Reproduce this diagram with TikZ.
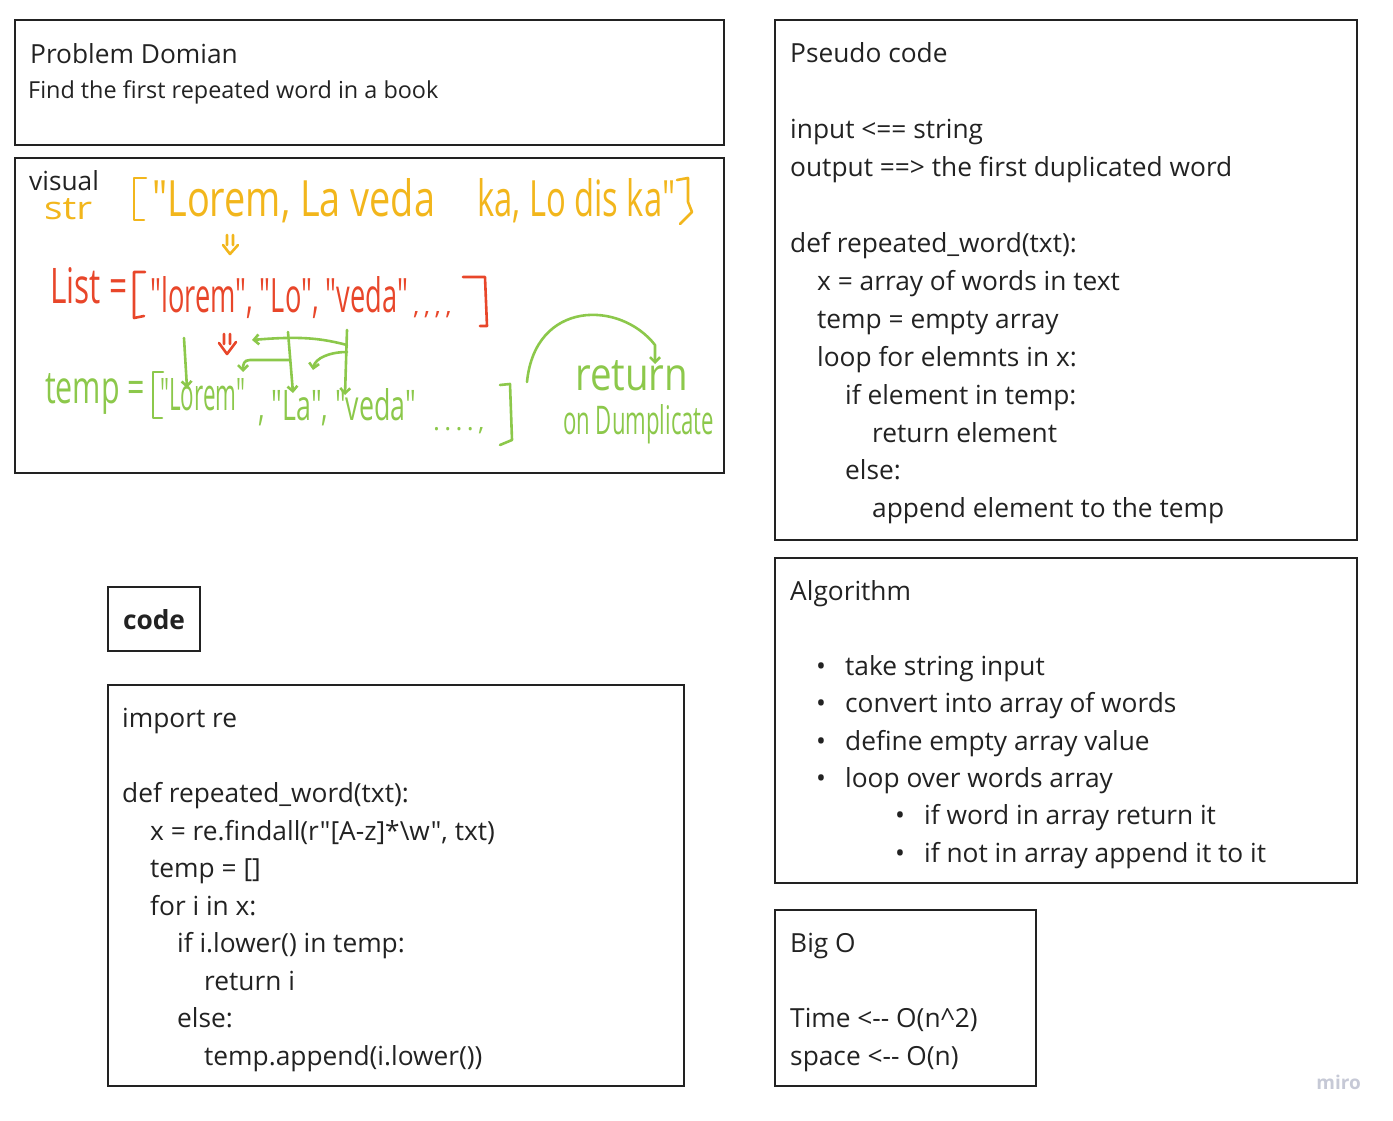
\documentclass[tikz,border=0pt]{standalone}
\usepackage{fontspec}
\usepackage{graphicx}
\newfontfamily\osans{Open Sans}
\usetikzlibrary{arrows.meta}
\definecolor{ink}{HTML}{222222}
\definecolor{hwy}{HTML}{F2B61C}
\definecolor{hwr}{HTML}{E8462A}
\definecolor{hwg}{HTML}{8CC84B}
\definecolor{mirogray}{HTML}{C6C9D6}
\newcommand\hw[3]{\resizebox{#1pt}{#2pt}{#3}}
\tikzset{
  panel/.style={draw=ink, line width=2.6pt},
  txt/.style={anchor=base west, inner sep=0pt, text=ink, font=\osans\fontsize{26.3}{30}\selectfont},
  subtxt/.style={txt, font=\osans\fontsize{23.4}{27}\selectfont},
  hand/.style={anchor=base west, inner sep=0pt, font=\osans},
  stroke/.style={line width=2.6pt, line cap=round, line join=round},
  harrow/.style={stroke, draw=hwg, -{Straight Barb[length=5pt,width=10pt]}},
}
\begin{document}
\begin{tikzpicture}[x=1pt,y=-1pt]
\useasboundingbox (0,0) rectangle (1393,1121);
% panels
\draw[panel] (15,20) rectangle (724,145);
\draw[panel] (15,158) rectangle (724,473);
\draw[panel] (775,20) rectangle (1357,540);
\draw[panel] (775,558) rectangle (1357,883);
\draw[panel] (775,910) rectangle (1036,1086);
\draw[panel] (108,587) rectangle (200,651);
\draw[panel] (108,685) rectangle (684,1086);

% problem domain
\node[txt] (pd1) at (30,63.5) {Problem Domian};
\node[subtxt] (pd2) at (28,99) {Find the first repeated word in a book};

% pseudo code
\node[txt] (ps0) at (790,63) {Pseudo code};
\node[txt] (ps2) at (790,138.8) {input <== string};
\node[txt] (ps3) at (790,176.7) {output ==> the first duplicated word};
\node[txt] (ps5) at (790,252.5) {def repeated\_word(txt):};
\node[txt] (ps6) at (817,290.4) {x = array of words in text};
\node[txt] (ps7) at (817,328.3) {temp = empty array};
\node[txt] (ps8) at (817,366.2) {loop for elemnts in x:};
\node[txt] (ps9) at (845,404.1) {if element in temp:};
\node[txt] (ps10) at (872,442) {return element};
\node[txt] (ps11) at (845,479.9) {else:};
\node[txt] (ps12) at (872,517.8) {append element to the temp};

% algorithm
\node[txt] (al0) at (790,600.5) {Algorithm};
\node[txt] (ab1) at (816,675.3) {\textbullet};
\node[txt] (al1) at (845,675.3) {take string input};
\node[txt] (ab2) at (816,712.7) {\textbullet};
\node[txt] (al2) at (845,712.7) {convert into array of words};
\node[txt] (ab3) at (816,750.1) {\textbullet};
\node[txt] (al3) at (845,750.1) {define empty array value};
\node[txt] (ab4) at (816,787.5) {\textbullet};
\node[txt] (al4) at (845,787.5) {loop over words array};
\node[txt] (ab5) at (895,824.9) {\textbullet};
\node[txt] (al5) at (924,824.9) {if word in array return it};
\node[txt] (ab6) at (895,862.3) {\textbullet};
\node[txt] (al6) at (924,862.3) {if not in array append it to it};

% big O
\node[txt] (bo0) at (790,952.5) {Big O};
\node[txt] (bo1) at (790,1027.5) {Time <-\kern0pt- O(n\textasciicircum 2)};
\node[txt] (bo2) at (790,1065) {space <-\kern0pt- O(n)};

% code label
\node[txt, anchor=base, font=\osans\fontsize{26.3}{30}\selectfont\bfseries] (codelbl) at (154,629.5) {code};

% code
\node[txt] (c0) at (122,727.5) {import re};
\node[txt] (c2) at (122,802.5) {def repeated\_word(txt):};
\node[txt] (c3) at (150,840) {x = re.findall(r"[A-z]*\textbackslash w", txt)};
\node[txt] (c4) at (150,877.5) {temp = []};
\node[txt] (c5) at (150,915) {for i in x:};
\node[txt] (c6) at (177,952.5) {if i.lower() in temp:};
\node[txt] (c7) at (204,990) {return i};
\node[txt] (c8) at (177,1027.5) {else:};
\node[txt] (c9) at (204,1065) {temp.append(i.lower())};

% miro
\node[anchor=base east, inner sep=0pt, text=mirogray, font=\osans\fontsize{19}{22}\selectfont\bfseries] (miro) at (1361,1089) {miro};

% visual
\node[txt] (vis) at (29,190) {visual};
% yellow
\node[hand, text=hwy] (ystr) at (44,219) {\hw{48}{21}{str}};
\draw[stroke, hwy] (146,178) -- (134,178) -- (134,220) -- (144,220);
\node[hand, text=hwy] (ys1) at (152,216) {\hw{283}{38}{"Lorem, La veda}};
\node[hand, text=hwy] (ys2) at (477,216) {\hw{198}{38}{ka, Lo dis ka"}};
\draw[stroke, hwy] (677,180) -- (688,178) -- (688,202) -- (692,212) -- (680,224);
\draw[stroke, hwy] (227,235) -- (227,245) (233,235) -- (233,245) (223,245) -- (230,254) -- (238,245);
% red
\node[hand, text=hwr] (rl) at (50,303) {\hw{77}{36}{List =}};
\draw[stroke, hwr] (145,272) -- (134,272) -- (134,318) -- (144,316);
\node[hand, text=hwr] (rl2) at (150,312) {\hw{258}{36}{"lorem", "Lo", "veda"}};
\node[hand, text=hwr, font=\osans\fontsize{26}{30}\selectfont] (rdots) at (413,314) {,\,,\,,\,,};
\draw[stroke, hwr] (463,277) -- (485,277) -- (487,326) -- (480,326);
\draw[stroke, hwr] (224,334) -- (224,344) (230,334) -- (230,344) (219,343) -- (227,354) -- (236,342);
% green
\node[hand, text=hwg] (gt) at (45,403) {\hw{100}{30}{temp =}};
\draw[stroke, hwg] (163,372) -- (153,372) -- (153,418) -- (162,418);
\node[hand, text=hwg] (gl) at (160,410) {\hw{85}{32}{"Lorem"}};
\node[hand, text=hwg] (gl2) at (258,420) {\hw{158}{32}{, "La", "veda"}};
\node[hand, text=hwg, font=\osans\fontsize{26}{30}\selectfont] (gdots) at (433,430) {.\,.\,.\,.\,,};
\draw[stroke, hwg] (500,385) -- (510,384) -- (512,440) -- (500,445);
\node[hand, text=hwg] (gr) at (575,390) {\hw{113}{30}{return}};
\node[hand, text=hwg] (gd) at (563,434) {\hw{151}{30}{on Dumplicate}};
% green arrows
\coordinate (a1s) at (184,338); \coordinate (a1e) at (187,388);
\draw[harrow] (a1s) -- (a1e);
\coordinate (a2s) at (288,332); \coordinate (a2e) at (293,393);
\draw[harrow] (a2s) -- (a2e);
\coordinate (a3s) at (347,345); \coordinate (a3e) at (252,340);
\draw[harrow] (a3s) .. controls (320,338) and (300,336) .. (a3e);
\coordinate (a4s) at (290,360); \coordinate (a4e) at (243,372);
\draw[harrow] (a4s) -- (250,360) .. controls (244,360) and (243,364) .. (a4e);
\coordinate (a5s) at (347,330); \coordinate (a5e) at (345,395);
\draw[harrow] (a5s) -- (a5e);
\coordinate (a7s) at (347,352); \coordinate (a7e) at (313,370);
\draw[harrow] (a7s) .. controls (330,352) and (315,358) .. (a7e);
\coordinate (rs) at (527,382); \coordinate (re) at (655,364);
\draw[harrow] (rs) .. controls (535,300) and (620,300) .. (655,345) -- (re);
\end{tikzpicture}
\end{document}
